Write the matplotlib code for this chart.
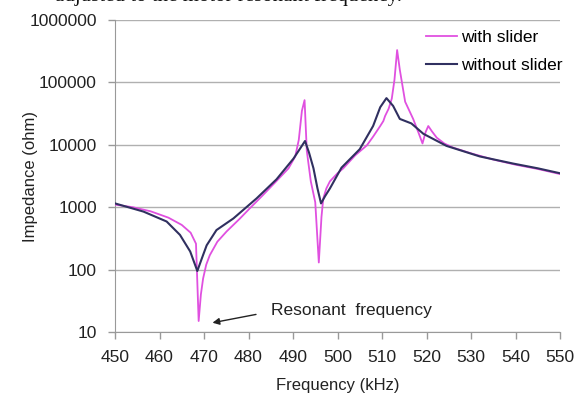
import matplotlib
matplotlib.use("Agg")
import matplotlib.pyplot as plt

plt.rcParams["font.family"] = ["Liberation Sans", "DejaVu Sans"]

# with slider (magenta)
F_WITH = [450, 454, 458, 462, 465, 467, 468.2, 468.8, 469.3, 469.8, 470.5, 471.3,
          473, 475.1, 478, 480.3, 483, 486, 489, 490.5, 491.3, 492, 492.6, 493.1,
          494, 495, 495.8, 496.4, 496.8, 497.5, 498.3, 500, 501.3, 504, 506.6,
          508, 509.6, 510.3, 510.7, 511.5, 512.2, 512.8, 513.4, 514, 515.2, 517,
          518.3, 519.1, 519.8, 520.4, 521.2, 522.3, 524, 526, 530, 535, 540, 545, 550]
Z_WITH = [1100, 1000, 860, 680, 520, 390, 260, 15, 40, 72, 120, 170,
          280, 410, 650, 960, 1500, 2500, 4200, 6500, 12000, 35000, 52000, 8000,
          2600, 1200, 130, 700, 1380, 2000, 2600, 3500, 4200, 6800, 9800,
          13500, 20000, 24000, 29000, 38000, 55000, 110000, 330000, 160000, 49000, 26000,
          15000, 10500, 16000, 20000, 16500, 13000, 10500, 9000, 7300, 5800, 4800, 4100, 3400]

# without slider (dark)
F_WITHOUT = [450, 456.4, 461.6, 464.6, 466.9, 468.5, 469.5, 470.6, 472.8, 476.6,
             481.8, 486.3, 490.1, 491.5, 492.7, 493.6, 494.6, 495.5, 496.3, 497.2,
             498.3, 500.9, 505, 508, 509.6, 511, 512.5, 514, 516.6, 519.3, 524.5,
             532, 539.5, 545, 550]
Z_WITHOUT = [1150, 850, 590, 360, 195, 95, 150, 245, 430, 660,
             1380, 2800, 6000, 8500, 11500, 7500, 4200, 2000, 1150, 1500,
             2000, 4300, 8500, 20000, 40000, 56000, 42000, 26000, 22000, 15000, 9600,
             6500, 5000, 4200, 3500]

X_TICKS = list(range(450, 551, 10))
Y_TICKS = [10, 100, 1000, 10000, 100000, 1000000]

FS = 12.5


def main():
    fig = plt.figure(figsize=(5.78, 3.96), dpi=100)
    ax = fig.add_axes([115 / 578, 1 - 332 / 396, 445 / 578, 312 / 396])

    ax.plot(F_WITH, Z_WITH, color="#e050e0", lw=1.3, label="with slider", zorder=3)
    ax.plot(F_WITHOUT, Z_WITHOUT, color="#303060", lw=1.5, label="without slider", zorder=4)

    ax.set_yscale("log")
    ax.set_xlim(450, 550)
    ax.set_ylim(10, 1000000)
    ax.set_xticks(X_TICKS)
    ax.set_yticks(Y_TICKS)
    ax.set_yticklabels([str(v) for v in Y_TICKS])
    ax.minorticks_off()
    ax.tick_params(labelsize=FS, colors="#999999", labelcolor="#222222",
                   length=5, width=1, direction="out", pad=8)
    ax.grid(axis="y", color="#b0b0b0", lw=1)
    ax.set_axisbelow(True)
    for s in ("top", "right"):
        ax.spines[s].set_visible(False)
    for s in ("left", "bottom"):
        ax.spines[s].set_color("#999999")

    ax.set_xlabel("Frequency (kHz)", fontsize=12, color="#222222", labelpad=9)
    ax.set_ylabel("Impedance (ohm)", fontsize=12, color="#222222")
    ax.yaxis.set_label_coords(-0.172, 0.5)

    ax.legend(loc="upper right", bbox_to_anchor=(1.022, 0.99), frameon=False,
              fontsize=FS, handlelength=1.8, handletextpad=0.25,
              labelspacing=0.75, borderaxespad=0.0)

    ax.annotate("", xy=(471.3, 13.8), xytext=(482.3, 19.5),
                arrowprops=dict(arrowstyle="-|>", color="#222222", lw=1,
                                mutation_scale=10))
    ax.text(485, 22, "Resonant  frequency", fontsize=FS, color="#222222",
            ha="left", va="center")

    # caption line of the page, cut off by the crop
    fig.text(0.095, 1 - 1 / 396, "adjusted to the motor resonant frequency.",
             family=["Liberation Serif", "DejaVu Serif"], fontsize=15,
             color="#111111", ha="left", va="baseline")

    fig.savefig("out.png", dpi=100)


if __name__ == "__main__":
    main()
